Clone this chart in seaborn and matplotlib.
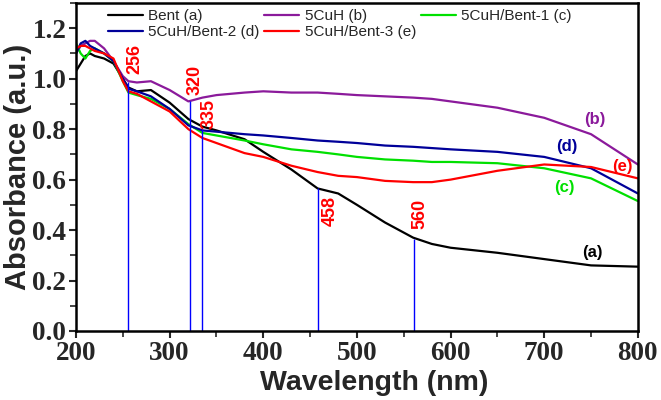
import numpy as np
import pandas as pd
import seaborn as sns
import matplotlib.pyplot as plt
from matplotlib.ticker import MultipleLocator

# wavelength grid (nm) and absorbance
wavelength = [200, 205, 210, 215, 220, 230, 240, 250, 256, 265, 280, 300, 320, 335, 350,
              380, 400, 430, 458, 480, 500, 530, 560, 580, 600, 650, 700, 750, 800]
bent = [1.03, 1.06, 1.09, 1.10, 1.09, 1.08, 1.06, 1.00, 0.965, 0.95, 0.955, 0.905, 0.84, 0.81, 0.795,
        0.76, 0.71, 0.64, 0.565, 0.545, 0.50, 0.43, 0.37, 0.345, 0.33, 0.31, 0.285, 0.26, 0.255]
cuh = [1.10, 1.13, 1.14, 1.15, 1.15, 1.12, 1.07, 1.01, 0.99, 0.985, 0.99, 0.955, 0.91, 0.925, 0.935,
       0.945, 0.95, 0.945, 0.945, 0.94, 0.935, 0.93, 0.925, 0.92, 0.91, 0.885, 0.845, 0.78, 0.66]
cuh_bent1 = [1.14, 1.10, 1.08, 1.11, 1.12, 1.10, 1.07, 0.99, 0.945, 0.935, 0.92, 0.88, 0.82, 0.785, 0.775,
             0.755, 0.74, 0.72, 0.71, 0.70, 0.69, 0.68, 0.675, 0.67, 0.67, 0.665, 0.645, 0.605, 0.515]
cuh_bent2 = [1.10, 1.14, 1.15, 1.13, 1.12, 1.10, 1.07, 1.00, 0.96, 0.95, 0.93, 0.88, 0.815, 0.795, 0.79,
             0.78, 0.775, 0.765, 0.755, 0.75, 0.745, 0.735, 0.73, 0.725, 0.72, 0.71, 0.69, 0.645, 0.545]
cuh_bent3 = [1.12, 1.13, 1.13, 1.12, 1.11, 1.10, 1.08, 0.99, 0.95, 0.94, 0.91, 0.87, 0.80, 0.765, 0.745,
             0.705, 0.69, 0.655, 0.63, 0.615, 0.61, 0.595, 0.59, 0.59, 0.60, 0.635, 0.66, 0.65, 0.605]

labels = ['Bent (a)', '5CuH (b)', '5CuH/Bent-1 (c)', '5CuH/Bent-2 (d)', '5CuH/Bent-3 (e)']
colors = ['#000000', '#8B1A9B', '#00E000', '#000099', '#FF0000']

# marked peaks: position, top of drop line, label
peak_x = [256, 322, 335, 458, 561]
peak_top = [0.985, 0.91, 0.80, 0.565, 0.366]
peak_text = ['256', '320', '335', '458', '560']
peak_text_x = [263, 327, 342, 472, 567]
peak_text_y = [1.02, 0.935, 0.80, 0.535, 0.525]

df = pd.DataFrame({'Wavelength': wavelength * 5,
                   'Absorbance': bent + cuh + cuh_bent1 + cuh_bent2 + cuh_bent3,
                   'Sample': sum([[l] * len(wavelength) for l in labels], [])})

sns.set_style('ticks')
plt.rcParams['font.family'] = ['Liberation Sans', 'DejaVu Sans']

fig = plt.figure(figsize=(6.61, 4.0), dpi=100)
ax = fig.add_axes([0.115, 0.1725, 0.85, 0.82])

sns.lineplot(data=df, x='Wavelength', y='Absorbance', hue='Sample', hue_order=labels,
             palette=colors, linewidth=1.6, ax=ax, legend=True)

# drop lines
ax.vlines(peak_x, 0, peak_top, color='#0000FF', linewidth=1.0)
for tx, ty, lab in zip(peak_text_x, peak_text_y, peak_text):
    va = 'bottom' if tx < 400 else 'top'
    ax.text(tx, ty, lab, rotation=90, ha='center', va=va, color='#FF0000',
            fontsize=13, fontweight='bold')

# curve letters
letter_pos = [(751, 0.31, '(a)'), (754, 0.84, '(b)'), (722, 0.57, '(c)'),
              (724, 0.73, '(d)'), (783, 0.65, '(e)')]
for (lx, ly, t), c in zip(letter_pos, colors):
    ax.text(lx, ly, t, color=c, fontsize=12, fontweight='bold', ha='center', va='center')

ax.set_xlim(200, 800)
ax.set_ylim(0, 1.3)
ax.xaxis.set_major_locator(MultipleLocator(100))
ax.xaxis.set_minor_locator(MultipleLocator(50))
ax.yaxis.set_minor_locator(MultipleLocator(0.1))
ax.set_yticks(np.arange(0, 1.21, 0.2))
ax.set_yticklabels([f'{v:.1f}' for v in np.arange(0, 1.21, 0.2)])
ax.tick_params(which='major', direction='out', length=5, width=1.5, pad=2)
ax.tick_params(which='minor', direction='out', length=4, width=1.2)
for lab in ax.get_xticklabels() + ax.get_yticklabels():
    lab.set_fontfamily('Liberation Serif')
    lab.set_fontweight('bold')
    lab.set_fontsize(19.5)
for s in ax.spines.values():
    s.set_linewidth(1.8)
    s.set_color('black')

ax.set_xlabel('Wavelength (nm)', fontsize=20.5, fontweight='bold')
ax.set_ylabel('Absorbance (a.u.)', fontsize=21, fontweight='bold')
ax.xaxis.set_label_coords(0.53, -0.12)
ax.yaxis.set_label_coords(-0.078, 0.5)

# legend: row-wise order in 3 columns
h, l = ax.get_legend_handles_labels()
order = [0, 3, 1, 4, 2]
ax.legend([h[i] for i in order], [l[i] for i in order], ncol=3, frameon=False,
          fontsize=11, loc='upper left', bbox_to_anchor=(0.04, 1.01),
          handlelength=2.3, handletextpad=0.35, columnspacing=0.3, labelspacing=0.15,
          borderaxespad=0.2)

fig.savefig('out.png', dpi=100)
